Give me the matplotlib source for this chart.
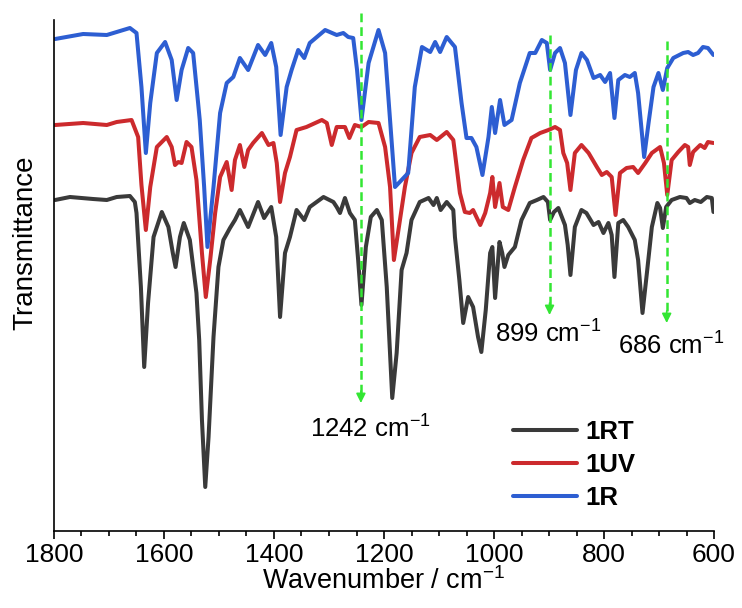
import matplotlib
matplotlib.use('Agg')
import matplotlib.pyplot as plt
from matplotlib.ticker import MultipleLocator

plt.rcParams['font.family'] = ['Liberation Sans', 'DejaVu Sans']
plt.rcParams['mathtext.fontset'] = 'custom'
plt.rcParams['mathtext.rm'] = 'Liberation Sans'
plt.rcParams['mathtext.it'] = 'Liberation Sans:italic'
plt.rcParams['mathtext.bf'] = 'Liberation Sans:bold'

# ---- data (wavenumber in cm-1, transmittance in arbitrary offset units) ----
wn_rt = [1798, 1771, 1729, 1704, 1686, 1662, 1653, 1650, 1642, 1636, 1629, 1619, 1604, 1592, 1584, 1579,
         1571, 1564, 1553, 1541, 1536, 1531, 1525, 1519, 1510, 1501, 1492, 1480, 1471, 1462, 1447,
         1429, 1418, 1405, 1396, 1389, 1380, 1371, 1359, 1345, 1335, 1310, 1292, 1286, 1280, 1271,
         1262, 1253, 1247, 1241, 1233, 1224, 1213, 1204, 1195, 1185, 1177, 1168, 1159, 1150, 1135,
         1119, 1110, 1104, 1097, 1086, 1074, 1071, 1063, 1056, 1047, 1038, 1029, 1023, 1015, 1007,
         1003, 998, 990, 985, 981, 974, 962, 950, 935, 922, 910, 902, 898, 891, 883,
         871, 866, 861, 853, 841, 832, 819, 810, 801, 792, 786, 781, 774, 765, 756,
         744, 738, 730, 722, 713, 703, 698, 693, 687, 677, 662, 650, 644, 635, 624,
         613, 604, 601]
t_rt = [331, 334, 332, 331, 334, 335, 329, 318, 244, 164, 228, 294, 319, 304, 278, 264,
        294, 308, 291, 238, 191, 111, 44, 94, 194, 264, 291, 303, 311, 321, 304,
        329, 313, 324, 294, 214, 278, 294, 321, 311, 324, 334, 329, 324, 318, 333,
        318, 311, 271, 226, 284, 314, 321, 311, 244, 133, 178, 261, 278, 311, 329,
        333, 326, 333, 321, 329, 321, 294, 251, 208, 234, 224, 194, 179, 221, 278,
        284, 233, 289, 278, 264, 276, 284, 311, 328, 331, 334, 329, 311, 319, 323,
        306, 286, 256, 304, 321, 318, 306, 309, 298, 308, 296, 254, 308, 311, 304,
        291, 271, 218, 258, 304, 328, 323, 303, 324, 331, 334, 333, 328, 331, 329,
        334, 333, 319]

wn_uv = [1798, 1747, 1704, 1686, 1659, 1647, 1641, 1633, 1625, 1613, 1595, 1586, 1580, 1574, 1568,
         1559, 1550, 1541, 1531, 1524, 1516, 1507, 1498, 1486, 1477, 1471, 1462, 1454, 1447, 1438,
         1422, 1410, 1401, 1395, 1389, 1380, 1371, 1359, 1341, 1313, 1304, 1295, 1286, 1271, 1263,
         1253, 1241, 1228, 1210, 1198, 1189, 1182, 1171, 1162, 1150, 1135, 1116, 1104, 1086, 1074,
         1071, 1062, 1053, 1044, 1038, 1025, 1016, 1007, 1003, 998, 990, 984, 974, 962, 947,
         932, 916, 901, 889, 880, 874, 867, 861, 853, 841, 828, 813, 804, 795, 786,
         779, 771, 759, 747, 738, 725, 713, 698, 691, 685, 677, 665, 653, 647, 644,
         638, 625, 617, 611, 601]
t_uv = [406, 408, 406, 409, 411, 394, 346, 301, 344, 384, 394, 384, 366, 369, 368,
        389, 384, 351, 278, 234, 271, 318, 354, 369, 341, 371, 386, 364, 381, 388,
        398, 386, 388, 368, 329, 358, 374, 401, 404, 411, 408, 386, 404, 404, 393,
        406, 404, 409, 408, 384, 344, 271, 311, 344, 378, 394, 396, 391, 399, 391,
        378, 338, 319, 318, 321, 306, 318, 338, 354, 324, 348, 324, 321, 344, 371,
        393, 398, 401, 404, 401, 378, 368, 341, 378, 386, 378, 364, 356, 359, 354,
        316, 358, 363, 364, 358, 368, 378, 384, 368, 336, 371, 379, 386, 384, 366,
        379, 386, 383, 389, 388]

wn_r = [1798, 1747, 1704, 1686, 1662, 1650, 1641, 1633, 1625, 1613, 1598, 1586, 1577, 1568, 1556,
        1547, 1538, 1535, 1527, 1521, 1510, 1498, 1486, 1474, 1462, 1447, 1429, 1416, 1405, 1396,
        1388, 1377, 1368, 1356, 1345, 1335, 1307, 1286, 1274, 1265, 1256, 1249, 1241, 1228, 1210,
        1198, 1189, 1180, 1168, 1156, 1144, 1131, 1116, 1107, 1098, 1086, 1071, 1059, 1050, 1041,
        1032, 1021, 1010, 1004, 998, 989, 981, 968, 953, 935, 925, 913, 904, 898, 889,
        880, 871, 861, 851, 841, 831, 819, 807, 798, 789, 781, 774, 762, 753, 744,
        738, 727, 719, 710, 701, 693, 685, 674, 656, 647, 638, 629, 620, 611, 601]
t_r = [492, 497, 496, 499, 503, 498, 444, 378, 428, 478, 489, 471, 431, 461, 483,
       478, 428, 411, 344, 284, 344, 418, 448, 454, 473, 461, 486, 476, 488, 464,
       396, 444, 461, 481, 473, 488, 501, 496, 498, 494, 493, 461, 411, 468, 501,
       478, 411, 344, 351, 358, 444, 484, 479, 489, 479, 494, 484, 428, 393, 393,
       384, 356, 394, 424, 398, 431, 406, 411, 448, 478, 478, 491, 488, 461, 478,
       483, 468, 416, 461, 478, 471, 453, 456, 449, 458, 413, 451, 456, 454, 458,
       438, 374, 408, 444, 458, 441, 463, 473, 478, 479, 476, 478, 484, 483, 476]

series_labels = ['1RT', '1UV', '1R']
series_colors = ['#3a3a3a', '#cc2a2d', '#2d5ed2']

marked_peaks = [1242, 899, 686]
marked_labels = ['1242 cm$^{-1}$', '899 cm$^{-1}$', '686 cm$^{-1}$']

# ---- figure ----
fig = plt.figure(figsize=(7.42, 6.08), dpi=100)
ax = fig.add_axes([54 / 742, 77 / 608, 660 / 742, 511 / 608])

for wn, t, lab, col in zip([wn_rt, wn_uv, wn_r], [t_rt, t_uv, t_r], series_labels, series_colors):
    ax.plot(wn, t, color=col, lw=2.9, label=lab, solid_joinstyle='round', solid_capstyle='round')

ax.set_xlim(1800, 600)
ax.set_ylim(0, 511)

# arrows + labels
arrow_top = [518, 496, 490]
arrow_tip = [128, 216, 208]
label_x = [1335, 998, 775]
label_y = [93, 188, 176]
green = '#33e633'
for pk, top, tip, lx, ly, txt in zip(marked_peaks, arrow_top, arrow_tip, label_x, label_y, marked_labels):
    ax.plot([pk, pk], [top, tip + 10], color=green, lw=1.8, ls=(0, (3.5, 2)), zorder=5, clip_on=False)
    ax.annotate('', xy=(pk, tip), xytext=(pk, tip + 12),
                arrowprops=dict(arrowstyle='-|>', color=green, lw=1.2, mutation_scale=14,
                                shrinkA=0, shrinkB=0),
                zorder=6, annotation_clip=False)
    ax.text(lx, ly, txt, fontsize=18.5, ha='left', va='baseline', color='black')

# axes styling
for s in ['top', 'right']:
    ax.spines[s].set_visible(False)
for s in ['left', 'bottom']:
    ax.spines[s].set_linewidth(1.2)
ax.set_yticks([])
ax.xaxis.set_major_locator(MultipleLocator(200))
ax.xaxis.set_minor_locator(MultipleLocator(50))
ax.tick_params(axis='x', which='major', direction='out', length=6, width=1.2, labelsize=19, pad=3)
ax.tick_params(axis='x', which='minor', direction='out', length=3.5, width=1.2)

ax.set_xlabel('Wavenumber / cm$^{-1}$', fontsize=19.5, labelpad=0)
ax.text(-0.044, 0.5636, 'Transmittance', rotation=90, fontsize=20, ha='center', va='center',
        transform=ax.transAxes)

leg = ax.legend(loc='center left', bbox_to_anchor=(0.6955, 0.129), frameon=False,
                prop={'weight': 'bold', 'size': 18.5}, handlelength=2.5, handletextpad=0.3,
                labelspacing=0.36, borderpad=0, borderaxespad=0)
for h in leg.get_lines():
    h.set_linewidth(2.9)

fig.savefig('out.png', dpi=100, facecolor='white')
